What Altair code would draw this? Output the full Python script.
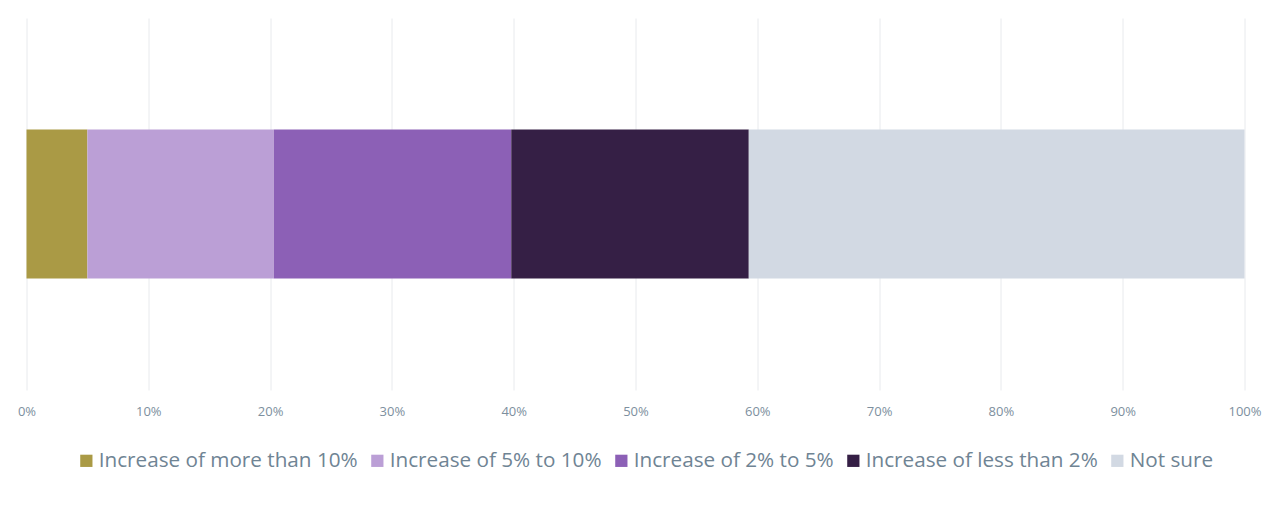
import altair as alt
import pandas as pd

categories = ["Increase of more than 10%", "Increase of 5% to 10%", "Increase of 2% to 5%",
              "Increase of less than 2%", "Not sure"]
values = [5.0, 15.3, 19.5, 19.5, 40.7]
colors = ["#aa9a45", "#bb9fd6", "#8c60b6", "#351f45", "#d2d9e3"]

df = pd.DataFrame({"group": ["All"] * len(categories), "category": categories,
                   "value": [v / 100 for v in values], "order": list(range(len(categories)))})

chart = alt.Chart(df).mark_bar(size=149).encode(
    x=alt.X("value:Q", stack="zero",
            scale=alt.Scale(domain=[0, 1], nice=False),
            axis=alt.Axis(format="%", values=[i / 10 for i in range(11)], title=None,
                          domain=False, ticks=False, grid=True, gridColor="#e8eaed",
                          labelColor="#7d8f9e", labelFontSize=13, labelFont="Open Sans",
                          labelPadding=15, labelFlush=False)),
    y=alt.Y("group:N", axis=None),
    color=alt.Color("category:N", sort=categories,
                    scale=alt.Scale(domain=categories, range=colors),
                    legend=alt.Legend(orient="none", legendX=49.5, legendY=432,
                                      direction="horizontal", title=None,
                                      symbolType="square", symbolSize=150, symbolStrokeWidth=0,
                                      labelFontSize=20.7, labelFont="Open Sans", labelColor="#6f8494",
                                      symbolOffset=0, labelOffset=2, columnPadding=9,
                                      labelLimit=400)),
    order=alt.Order("order:Q"),
).properties(
    width=1218, height=372,
    autosize=alt.AutoSizeParams(type="none"),
    padding={"left": 18.5, "top": 10, "right": 20, "bottom": 110},
).configure_view(stroke=None)

chart.save("out.html", embed_options={"renderer": "svg", "actions": False})
